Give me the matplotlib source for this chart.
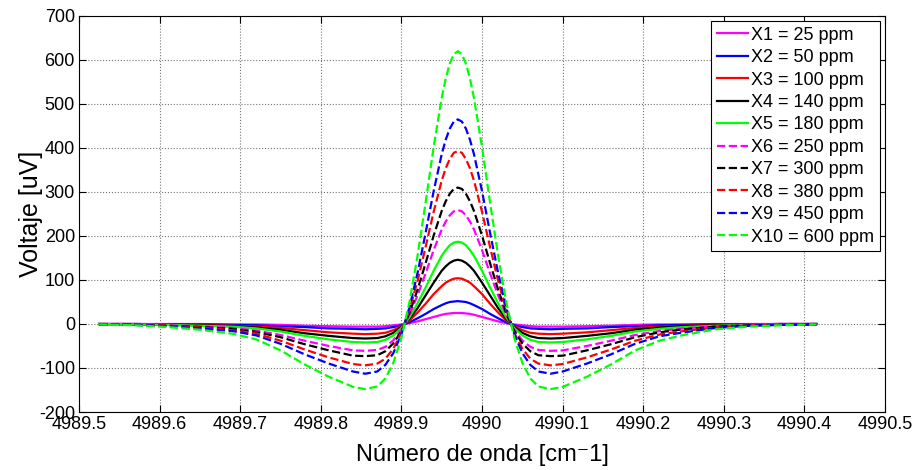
import numpy as np
import matplotlib.pyplot as plt

plt.rcParams['font.family'] = ['Liberation Sans', 'DejaVu Sans']
plt.rcParams['axes.unicode_minus'] = False

# numero de onda [cm-1]
wn = [4989.525, 4989.570, 4989.610, 4989.650, 4989.690, 4989.720, 4989.750, 4989.780,
      4989.810, 4989.840, 4989.855, 4989.870, 4989.880, 4989.890, 4989.900, 4989.910,
      4989.920, 4989.930, 4989.940, 4989.950, 4989.955, 4989.960, 4989.965, 4989.970,
      4989.975, 4989.980, 4989.985, 4989.990,
      4990.000, 4990.010, 4990.020, 4990.030, 4990.040, 4990.050, 4990.060, 4990.070,
      4990.085, 4990.100, 4990.130, 4990.160, 4990.190, 4990.220, 4990.250, 4990.290,
      4990.330, 4990.370, 4990.415]

# voltaje [uV] para cada concentracion
X1 = [0, 0, 0, 0, -1, -1, -2, -4, -5, -6, -6, -6, -5, -3, -1, 2, 6, 11, 16, 21, 23, 24,
      25, 25, 25, 24, 23, 21, 16, 11, 6, 2, -1, -3, -5, -6, -6, -6, -5, -4, -2, -1, -1, 0, 0, 0, 0]
X2 = [0, 0, -1, -1, -2, -3, -5, -7, -10, -11, -12, -11, -10, -7, -3, 4, 13, 23, 34, 43, 47, 50,
      51, 52, 51, 50, 47, 43, 34, 23, 13, 4, -3, -7, -10, -11, -12, -11, -10, -7, -5, -3, -2, -1, -1, 0, 0]
X3 = [0, 0, -1, -2, -4, -6, -9, -14, -19, -22, -23, -22, -20, -14, -5, 8, 26, 46, 68, 86, 94, 99,
      103, 104, 103, 99, 94, 86, 68, 46, 26, 8, -5, -14, -20, -22, -23, -22, -19, -14, -9, -6, -4, -2, -1, 0, 0]
X4 = [0, -1, -2, -3, -5, -8, -13, -21, -27, -32, -33, -32, -28, -20, -7, 12, 36, 65, 94, 121, 131, 139,
      144, 146, 144, 139, 131, 121, 94, 65, 36, 12, -7, -20, -28, -32, -33, -32, -27, -21, -13, -8, -5, -3, -2, -1, 0]
X5 = [0, -1, -2, -4, -6, -10, -17, -27, -35, -41, -42, -41, -36, -26, -9, 15, 47, 83, 121, 155, 168, 179,
      185, 187, 185, 179, 168, 155, 121, 83, 47, 15, -9, -26, -36, -41, -42, -41, -35, -27, -17, -11, -7, -4, -2, -1, 0]
X6 = [0, -1, -3, -5, -9, -15, -25, -38, -50, -60, -61, -59, -52, -37, -13, 21, 65, 115, 168, 215, 233, 247,
      256, 259, 256, 247, 233, 215, 168, 115, 65, 21, -13, -37, -52, -59, -61, -60, -50, -38, -25, -16, -10, -5, -3, -1, 0]
X7 = [-1, -2, -4, -7, -11, -18, -30, -46, -60, -72, -73, -71, -62, -44, -16, 25, 78, 138, 201, 257, 279, 296,
      307, 310, 307, 296, 279, 257, 201, 138, 78, 25, -16, -44, -62, -71, -73, -72, -60, -46, -30, -19, -12, -6, -3, -2, -1]
X8 = [-1, -2, -4, -8, -14, -22, -38, -58, -76, -91, -94, -90, -79, -56, -20, 32, 98, 175, 255, 326, 354, 375,
      389, 393, 389, 375, 354, 326, 255, 175, 98, 32, -20, -56, -79, -90, -94, -91, -76, -58, -38, -24, -16, -8, -4, -2, -1]
X9 = [-1, -2, -5, -10, -16, -26, -45, -69, -90, -108, -113, -108, -93, -66, -23, 38, 116, 207, 302, 386, 419, 444,
      460, 465, 460, 444, 419, 386, 302, 207, 116, 38, -23, -66, -93, -108, -113, -108, -90, -69, -45, -28, -19, -9, -4, -2, -1]
X10 = [-1, -3, -7, -13, -22, -35, -60, -92, -120, -143, -148, -142, -124, -88, -31, 50, 155, 276, 402, 514, 558, 592,
       613, 620, 613, 592, 558, 514, 402, 276, 155, 50, -31, -88, -124, -142, -148, -143, -120, -92, -60, -38, -25, -12, -6, -3, -1]

labels = ['X1 = 25 ppm', 'X2 = 50 ppm', 'X3 = 100 ppm', 'X4 = 140 ppm', 'X5 = 180 ppm',
          'X6 = 250 ppm', 'X7 = 300 ppm', 'X8 = 380 ppm', 'X9 = 450 ppm', 'X10 = 600 ppm']
xticks = [4989.5, 4989.6, 4989.7, 4989.8, 4989.9, 4990.0, 4990.1, 4990.2, 4990.3, 4990.4, 4990.5]
xtick_labels = ['4989.5', '4989.6', '4989.7', '4989.8', '4989.9', '4990',
                '4990.1', '4990.2', '4990.3', '4990.4', '4990.5']
yticks = [-200, -100, 0, 100, 200, 300, 400, 500, 600, 700]

series = [X1, X2, X3, X4, X5, X6, X7, X8, X9, X10]
colors = ['#ff00ff', '#0000ff', '#ff0000', '#000000', '#00ff00',
          '#ff00ff', '#000000', '#ff0000', '#0000ff', '#00ff00']
styles = ['-', '-', '-', '-', '-', '--', '--', '--', '--', '--']

fig, ax = plt.subplots(figsize=(9.13, 4.70), dpi=100)
fig.subplots_adjust(left=0.0866, right=0.9693, top=0.966, bottom=0.1234)

for y, c, ls, lab in zip(series, colors, styles, labels):
    ax.plot(wn, y, color=c, linestyle=ls, linewidth=1.6, label=lab)

ax.set_xlim(4989.5, 4990.5)
ax.set_ylim(-200, 700)
ax.set_xticks(xticks)
ax.set_xticklabels(xtick_labels)
ax.set_yticks(yticks)
ax.tick_params(direction='in', top=True, right=True, labelsize=13, length=5, pad=3)
ax.grid(True, linestyle=':', color='0.45', linewidth=0.8)
for s in ax.spines.values():
    s.set_linewidth(0.8)

ax.set_xlabel('Número de onda [cm⁻1]', fontsize=17, labelpad=8)
ax.set_ylabel('Voltaje [uV]', fontsize=18, labelpad=-3)

leg = ax.legend(loc='upper right', fontsize=13, fancybox=False, framealpha=1,
                edgecolor='black', handlelength=1.7, handletextpad=0.2,
                labelspacing=0.3, borderpad=0.3, borderaxespad=0.3)
leg.get_frame().set_linewidth(0.8)

plt.savefig('out.png', dpi=100)
